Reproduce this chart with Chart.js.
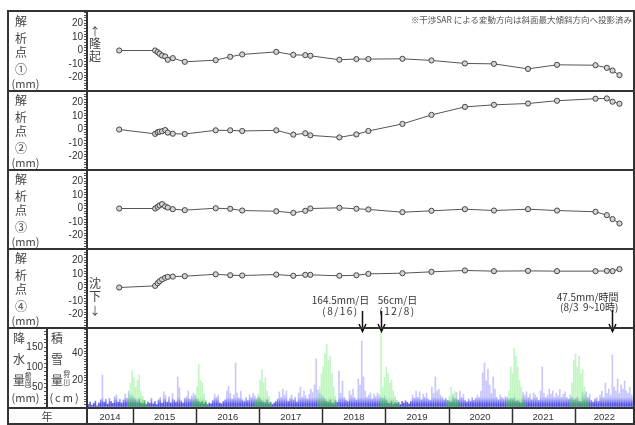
<!DOCTYPE html>
<html lang="ja">
<head>
<meta charset="utf-8">
<title>解析点の変動と降水量・積雪量</title>
<script src="https://cdn.jsdelivr.net/npm/chart.js@4.4.1/dist/chart.umd.min.js"></script>
<style>
  body { margin: 0; background: #fff; }
  #wrap { position: relative; width: 635px; height: 425px; overflow: hidden; background: #fff;
          font-family: "Noto Sans CJK JP", "Noto Sans", sans-serif; color: #444; }
  #wrap canvas { position: absolute; }
  .t { position: absolute; white-space: nowrap; line-height: 1; transform: translate(-50%, -50%); }
  .ln { position: absolute; background: #333; }
</style>
</head>
<body>
<div id="wrap">
  <canvas id="p1" width="627" height="79" style="left:7px;top:11px"></canvas>
  <canvas id="p2" width="627" height="79" style="left:7px;top:90px"></canvas>
  <canvas id="p3" width="627" height="79" style="left:7px;top:169px"></canvas>
  <canvas id="rain" width="627" height="98" style="left:7px;top:327px"></canvas>
  <canvas id="p4" width="627" height="85" style="left:7px;top:248px"></canvas>
</div>
<script>
// SAR acquisition dates (decimal years)
var dates = [2014.78, 2015.35, 2015.39, 2015.42, 2015.46, 2015.51, 2015.55, 2015.63, 2015.82,
             2016.31, 2016.54, 2016.73, 2017.27, 2017.54, 2017.73, 2017.81, 2018.27, 2018.54,
             2018.73, 2019.27, 2019.73, 2020.26, 2020.72, 2021.26, 2021.72, 2022.33, 2022.51,
             2022.60, 2022.71];

// displacement (mm) of each analysis point
var point1 = [0, 0, -1.2, -2.4, -3.7, -4.4, -6.8, -5.6, -8.3, -7.1, -4.6, -2.9, -1.0, -3.2, -3.4,
              -3.9, -6.8, -6.3, -6.3, -6.1, -7.3, -9.5, -9.8, -13.5, -10.5, -10.8, -12.7, -14.7, -18.1];
var point2 = [0, -3.2, -2.0, -1.6, -1.3, -0.4, -2.3, -3.1, -3.3, -0.6, -0.6, -1.1, -0.6, -3.8, -2.8,
              -4.3, -5.8, -3.6, -1.1, 4.1, 10.7, 16.6, 18.1, 19.1, 21.1, 22.6, 22.8, 20.4, 18.9];
var point3 = [0, 0, 1.2, 2.3, 3.2, 1.5, 0.7, -0.5, -1.2, 0.2, -0.2, -1.5, -2.0, -3.2, -1.7,
              0, 0.5, -0.2, -0.7, -2.7, -1.7, -0.5, -1.5, -0.5, -1.5, -2.4, -4.9, -7.8, -11.0];
var point4 = [0, 1.2, 3.2, 4.6, 5.9, 7.1, 7.8, 8.0, 8.3, 9.7, 9.0, 8.8, 9.5, 8.6, 9.3,
              9.3, 8.6, 9.0, 10.0, 10.5, 11.5, 12.5, 12.0, 12.2, 12.0, 12.0, 12.2, 12.0, 13.5];

// precipitation, Tsuruoka (mm/day, max of each 10-day period); 2014 starts mid April
var precip2014 = [6, 12, 4, 9, 15, 3, 10, 18, 80, 12, 20, 7, 22, 14, 9, 26, 30, 12, 20, 10, 18, 33, 22, 40, 28, 30];
var precip2015 = [24, 18, 12, 20, 10, 8, 16, 6, 12, 9, 22, 8, 14, 6, 18, 24, 10, 38, 30, 12,
                  26, 10, 34, 18, 12, 75, 48, 15, 10, 22, 26, 40, 20, 28, 35, 30];
var precip2016 = [20, 14, 10, 14, 8, 12, 6, 10, 8, 16, 32, 24, 30, 10, 8, 14, 18, 40, 52, 34,
                  20, 30, 110, 35, 22, 40, 18, 14, 24, 16, 30, 24, 34, 28, 20, 26];
var precip2017 = [22, 15, 12, 10, 18, 8, 12, 6, 10, 14, 20, 38, 24, 45, 30, 40, 14, 22, 30, 18,
                  24, 12, 35, 50, 24, 40, 28, 20, 32, 45, 36, 55, 120, 42, 34, 30];
var precip2018 = [26, 20, 14, 12, 18, 10, 8, 16, 12, 90, 34, 65, 24, 18, 14, 40, 30, 45, 24, 18,
                  70, 55, 164.5, 75, 40, 24, 30, 35, 20, 32, 26, 35, 30, 24, 22, 28];
var precip2019 = [18, 10, 8, 14, 6, 10, 8, 12, 6, 14, 10, 16, 12, 8, 14, 30, 22, 40, 24, 38,
                  18, 32, 24, 35, 20, 16, 50, 34, 75, 40, 45, 30, 24, 18, 22, 16];
var precip2020 = [15, 12, 30, 22, 36, 18, 40, 24, 32, 16, 12, 20, 14, 24, 16, 22, 30, 24, 40, 85,
                  110, 65, 95, 55, 34, 75, 45, 24, 18, 30, 24, 20, 26, 24, 18, 22];
var precip2021 = [20, 25, 14, 16, 12, 10, 36, 30, 38, 24, 32, 18, 35, 30, 24, 16, 40, 100, 34, 24,
                  30, 45, 32, 40, 24, 35, 28, 44, 24, 32, 38, 24, 20, 30, 24, 18];
var precip2022 = [20, 25, 14, 12, 36, 30, 38, 24, 32, 16, 12, 20, 24, 14, 30, 40, 24, 60, 34, 45,
                  30, 130, 50, 40, 70, 34, 55, 45, 65, 40, 34, 50, 30, 24];

// snowfall, Karikawa (cm/day, max of each 10-day period), Dec 1 - Mar 31 of each winter
var snow2015 = [10, 18, 27, 22, 15, 20, 24, 12, 8, 5, 2, 0];
var snow2016 = [2, 5, 8, 15, 32, 20, 18, 10, 5, 2, 0, 0];
var snow2017 = [3, 6, 10, 20, 28, 18, 22, 12, 8, 3, 0, 0];
var snow2018 = [8, 15, 25, 30, 40, 47, 35, 38, 25, 15, 8, 2];
var snow2019 = [56, 15, 22, 30, 25, 18, 20, 12, 8, 5, 2, 0];
var snow2020 = [0, 2, 5, 8, 15, 10, 12, 6, 3, 0, 0, 0];
var snow2021 = [5, 12, 30, 25, 44, 38, 30, 20, 15, 8, 3, 0];
var snow2022 = [6, 18, 35, 40, 30, 38, 25, 28, 15, 10, 4, 0];

var years = [2014, 2015, 2016, 2017, 2018, 2019, 2020, 2021, 2022];

var noteDates = [2018.625, 2018.934, 2022.588];
var noteTexts = [['164.5mm/日', '(8/16)'], ['56cm/日', '(12/8)'], ['47.5mm/時間', '(8/3  9~10時)']];

var xMin = 2014.27, xMax = 2022.94;

var precipByYear = [[2014, 10, precip2014], [2015, 0, precip2015], [2016, 0, precip2016],
                    [2017, 0, precip2017], [2018, 0, precip2018], [2019, 0, precip2019],
                    [2020, 0, precip2020], [2021, 0, precip2021], [2022, 0, precip2022]];
var snowByWinter = [[2014, snow2015], [2015, snow2016], [2016, snow2017], [2017, snow2018],
                    [2018, snow2019], [2019, snow2020], [2020, snow2021], [2021, snow2022]];

Chart.defaults.font.family = '"Liberation Sans", Arial, sans-serif';
Chart.defaults.color = '#333';

function stepTicks(lo, hi, step) {
    var out = [];
    for (var v = lo; v <= hi; v += step) out.push({value: v});
    return out;
}

function fixWidth(w) {
    return function (s) { s.width = w; s.paddingTop = 0; s.paddingBottom = 0; };
}

function axisY(min, max, step, labelEvery, width, showZero, extra) {
    var o = {
        min: min, max: max,
        afterBuildTicks: function (s) { s.ticks = stepTicks(Math.ceil(min / step) * step, max, step); },
        afterFit: fixWidth(width),
        border: {color: '#333', width: 1.5},
        grid: {drawOnChartArea: false, tickLength: 3, color: '#555'},
        ticks: {padding: 1, autoSkip: false, font: {size: 10}, color: '#333',
                callback: function (v) {
                    if (v === 0) return showZero ? '0' : '';
                    return (v % labelEvery === 0 && v < max) ? String(v) : '';
                }}
    };
    return Object.assign(o, extra || {});
}

// arrows and texts for the heavy rain / snow events
var notePlugin = {
    id: 'notes',
    afterDraw: function (chart) {
        var ctx = chart.ctx, x = chart.scales.x;
        var place = [{dx: -22, y: 52, gap: 11, align: 'center', top: 63},
                     {dx: 16, y: 52, gap: 11, align: 'center', top: 63},
                     {dx: 6, y: 49.5, gap: 9.5, align: 'right', top: 62}];
        ctx.save();
        ctx.fillStyle = '#333';
        ctx.strokeStyle = '#111';
        ctx.lineWidth = 1.5;
        ctx.font = '10px "Noto Sans CJK JP"';
        ctx.textBaseline = 'middle';
        noteDates.forEach(function (d, k) {
            var p = place[k], px = Math.round(x.getPixelForValue(d)) + 0.5;
            ctx.textAlign = p.align;
            noteTexts[k].forEach(function (s, i) {
                ctx.letterSpacing = (i && k < 2) ? '1.5px' : '0px';
                ctx.fillText(s, px + p.dx, p.y + i * p.gap);
            });
            ctx.beginPath();
            ctx.moveTo(px, p.top);
            ctx.lineTo(px, 83.5);
            ctx.moveTo(px - 3.5, 76);
            ctx.lineTo(px, 83.5);
            ctx.lineTo(px + 3.5, 76);
            ctx.stroke();
        });
        ctx.restore();
    }
};

function drawPanel(id, values, extra) {
    return new Chart(document.getElementById(id), {
        type: 'line',
        data: {
            datasets: [{
                data: dates.map(function (d, i) { return {x: d, y: values[i]}; }),
                borderColor: '#555',
                borderWidth: 1,
                pointRadius: 2.6,
                pointBorderWidth: 1,
                pointBorderColor: '#444',
                pointBackgroundColor: '#d4d4d4',
                tension: 0
            }]
        },
        options: {
            responsive: false, devicePixelRatio: 1, animation: false, events: [],
            layout: {autoPadding: false, padding: {bottom: extra ? 6 : 0}},
            scales: {
                x: {type: 'linear', min: xMin, max: xMax, display: false},
                y: axisY(-29, 29, 2, 10, 80, true)
            },
            plugins: {legend: {display: false}, tooltip: {enabled: false}}
        },
        plugins: extra ? [extra] : []
    });
}

drawPanel('p1', point1);
drawPanel('p2', point2);
drawPanel('p3', point3);
drawPanel('p4', point4, notePlugin);

var rainPoints = [], snowPoints = [];
precipByYear.forEach(function (r) {
    r[2].forEach(function (v, i) { rainPoints.push({x: r[0] + (r[1] + i + 0.5) / 36, y: v}); });
});
snowByWinter.forEach(function (r) {
    r[1].forEach(function (v, i) { snowPoints.push({x: r[0] + (33 + i + 0.5) / 36, y: v}); });
});

// darker near the base, like many overlapping daily bars
function baseShade(dark, light) {
    return function (c) {
        var a = c.chart.chartArea;
        if (!a) return light;
        var g = c.chart.ctx.createLinearGradient(0, a.bottom, 0, a.bottom - 10);
        g.addColorStop(0, dark);
        g.addColorStop(0.3, dark);
        g.addColorStop(1, light);
        return g;
    };
}

var yearLines = {
    id: 'yearLines',
    afterDraw: function (chart) {
        var ctx = chart.ctx, x = chart.scales.x, a = chart.chartArea;
        ctx.save();
        ctx.strokeStyle = '#333';
        ctx.lineWidth = 1.5;
        years.slice(1).forEach(function (y) {
            var px = Math.round(x.getPixelForValue(y)) + 0.5;
            ctx.beginPath();
            ctx.moveTo(px, a.bottom);
            ctx.lineTo(px, chart.height);
            ctx.stroke();
        });
        ctx.restore();
    }
};

new Chart(document.getElementById('rain'), {
    type: 'bar',
    data: {
        datasets: [
            {label: '積雪量', data: snowPoints, yAxisID: 'ys',
             backgroundColor: baseShade('rgba(60,190,60,0.65)', 'rgba(120,235,120,0.45)'),
             barThickness: 1, grouped: false},
            {label: '降水量', data: rainPoints, yAxisID: 'yp',
             backgroundColor: baseShade('rgba(40,40,220,0.8)', 'rgba(110,110,255,0.38)'),
             barThickness: 1, grouped: false}
        ]
    },
    options: {
        responsive: false, devicePixelRatio: 1, animation: false, events: [],
        layout: {autoPadding: false},
        scales: {
            x: {
                type: 'linear', min: xMin, max: xMax, offset: false,
                afterBuildTicks: function (s) {
                    s.ticks = years.map(function (y) {
                        return {value: (Math.max(y, xMin) + Math.min(y + 1, xMax)) / 2};
                    });
                },
                afterFit: function (s) { s.height = 18; s.paddingLeft = 0; s.paddingRight = 0; },
                grid: {display: false, drawTicks: false, tickLength: 0},
                border: {display: false},
                ticks: {autoSkip: false, maxRotation: 0, padding: 5, font: {size: 9.5}, color: '#333',
                        callback: function (v) { return String(Math.floor(v)); }}
            },
            yp: axisY(0, 200, 10, 50, 40, false, {position: 'left', weight: 1}),
            ys: axisY(0, 60, 2, 20, 40, false, {position: 'left', weight: 0})
        },
        plugins: {legend: {display: false}, tooltip: {enabled: false}}
    },
    plugins: [yearLines]
});

// frame, labels
var wrap = document.getElementById('wrap');
function label(text, x, y, size, css) {
    var d = document.createElement('div');
    d.className = 't';
    d.textContent = text;
    d.style.left = x + 'px';
    d.style.top = y + 'px';
    d.style.fontSize = size + 'px';
    if (css) Object.assign(d.style, css);
    wrap.appendChild(d);
}
function line(x, y, w, h) {
    var d = document.createElement('div');
    d.className = 'ln';
    d.style.left = x + 'px'; d.style.top = y + 'px';
    d.style.width = w + 'px'; d.style.height = h + 'px';
    wrap.appendChild(d);
}

[10, 90, 169, 248, 327, 407, 423].forEach(function (y) { line(7, y, 627, 1.5); });
line(7, 10, 1.5, 414.5);
line(633, 10, 1.5, 414.5);
line(86, 10, 1.5, 414.5);
line(46, 327, 1.5, 80);

['①', '②', '③', '④'].forEach(function (c, i) {
    var top = [11, 90, 169, 248][i];
    label('解', 21, top + 10, 12);
    label('析', 21, top + 27, 12);
    label('点', 21, top + 41, 12);
    label(c, 21, top + 57.5, 12);
    label('(mm)', 25.5, top + 71.5, 11);
});
label('↑', 95, 31, 11);
label('隆', 95, 43, 12);
label('起', 95, 56, 12);
label('沈', 95, 283, 12);
label('下', 95, 296, 12);
label('↓', 95, 310, 11);

label('降', 19, 338, 12);
label('水', 19, 359, 12);
label('量', 19, 380, 12);
label('(mm)', 25.5, 396.5, 11);
label('（鶴岡）', 28, 380, 6.5, {writingMode: 'vertical-rl'});
label('積', 57, 338, 12);
label('雪', 57, 359, 12);
label('量', 57, 380, 12);
label('(cm)', 65, 396.5, 11, {letterSpacing: '2px'});
label('（狩川）', 66.5, 378, 6.5, {writingMode: 'vertical-rl'});
label('年', 47, 416, 11);

label('※干渉SAR による変動方向は斜面最大傾斜方向へ投影済み', 632, 19, 8.5, {color: '#555', transform: 'translate(-100%, -50%)'});
</script>
</body>
</html>
